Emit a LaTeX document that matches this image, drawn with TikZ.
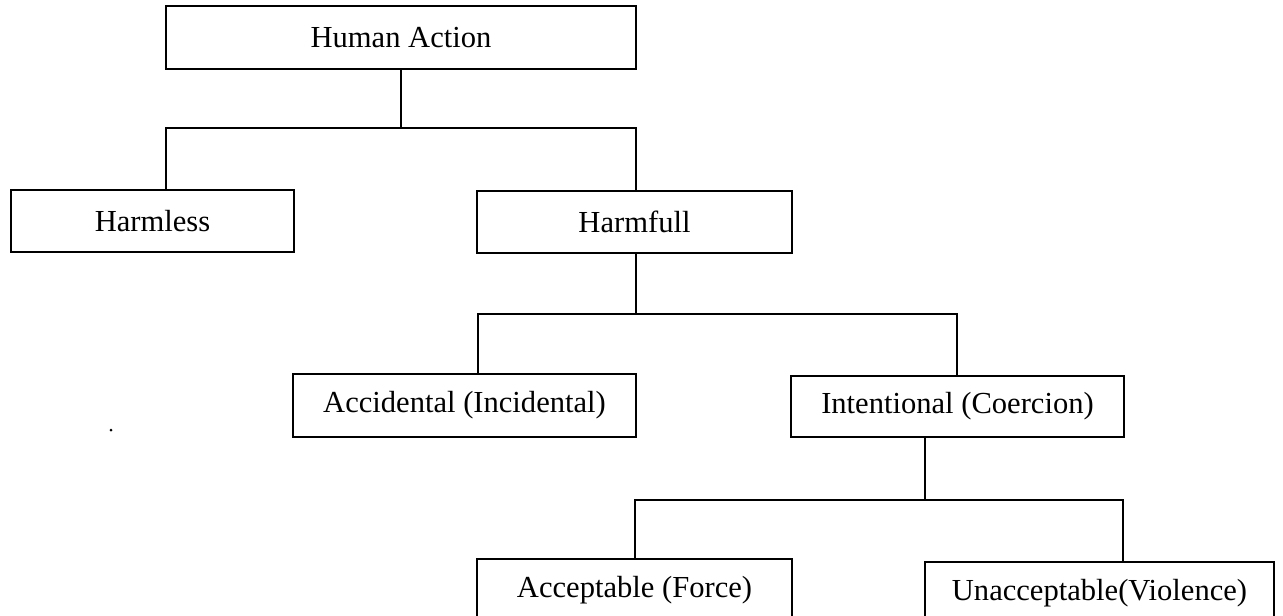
\documentclass[tikz,border=0pt]{standalone}
\usepackage{fontspec}
\setmainfont{Liberation Serif}
\usepackage{tikz}

\tikzset{box/.style={draw, line width=1.1pt, inner sep=0pt},
  link/.style={line width=1.1pt}}

\begin{document}
\begin{tikzpicture}[x=0.02cm, y=-0.02cm]
    \useasboundingbox (0,0) rectangle (1283,615);
    \begin{scope}[font=\fontsize{17.4}{20}\selectfont]
      \node (ha) at (401,37.5) [box, minimum width=470*0.02cm, minimum height=63*0.02cm] {Human Action};
      \node (harmless) at (152.5,221) [box, minimum width=283*0.02cm, minimum height=62*0.02cm] {Harmless};
      \node (harmfull) at (634.5,222) [box, minimum width=315*0.02cm, minimum height=62*0.02cm] {Harmfull};
      \node (accid) at (464.5,405.5) [box, minimum width=343*0.02cm, minimum height=63*0.02cm] {Accidental (Incidental)};
      \node (intent) at (957.5,406.5) [box, minimum width=333*0.02cm, minimum height=61*0.02cm] {Intentional (Coercion)};
      \node (accept) at (634.5,590) [box, minimum width=315*0.02cm, minimum height=62*0.02cm] {Acceptable (Force)};
      \node (unaccept) at (1099.5,593) [box, minimum width=349*0.02cm, minimum height=62*0.02cm] {Unacceptable(Violence)};
    \end{scope}
    \coordinate (j1) at (401,128);
    \coordinate (l1) at (166,128);
    \coordinate (r1) at (636,128);
    \coordinate (j2) at (636,314);
    \coordinate (l2) at (478,314);
    \coordinate (r2) at (957,314);
    \coordinate (j3) at (925,500);
    \coordinate (l3) at (635,500);
    \coordinate (r3) at (1123,500);
    \draw [link] (ha.south) -- (j1);
    \draw [link] (harmless.north -| l1) -- (l1) -- (r1) -- (harmfull.north -| r1);
    \draw [link] (harmfull.south -| j2) -- (j2);
    \draw [link] (accid.north -| l2) -- (l2) -- (r2) -- (intent.north -| r2);
    \draw [link] (intent.south -| j3) -- (j3);
    \draw [link] (accept.north -| l3) -- (l3) -- (r3) -- (unaccept.north -| r3);
    \fill (111,430) circle (1.5);
\end{tikzpicture}
\end{document}
